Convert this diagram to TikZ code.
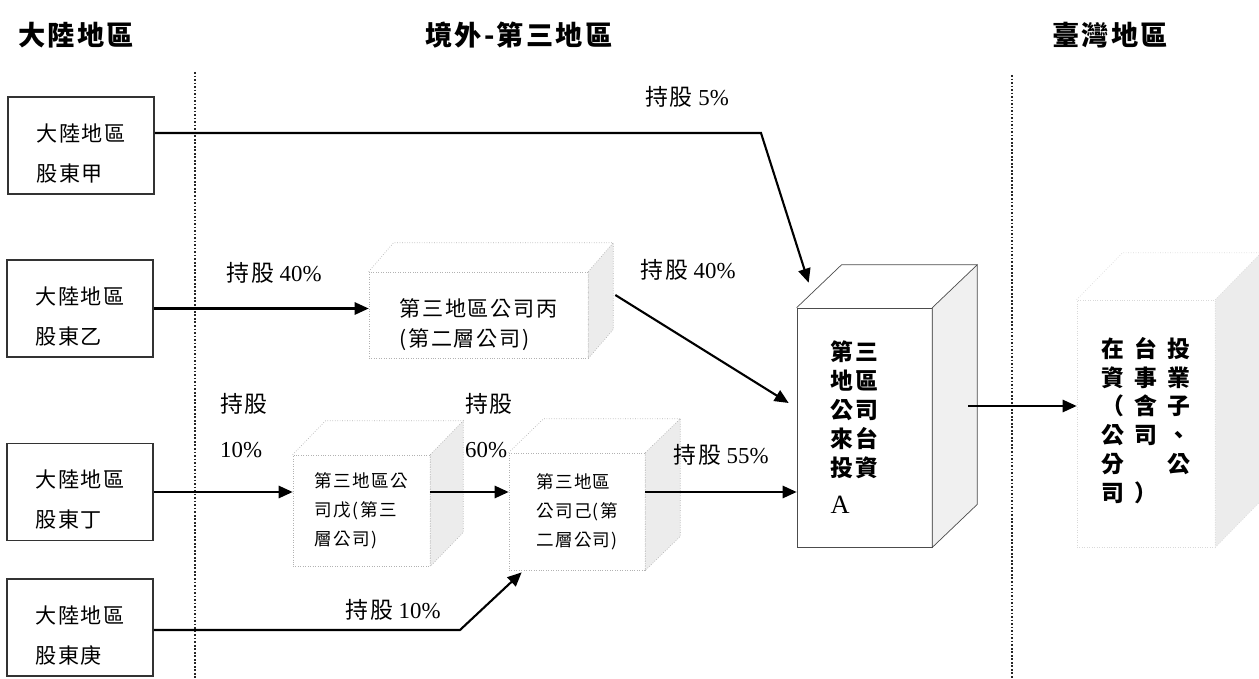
\documentclass[tikz,border=0pt]{standalone}
\usepackage{fontspec}
\setmainfont{Liberation Serif}
\newfontfamily\cjk[LetterSpace=8]{Noto Sans CJK TC}
\usetikzlibrary{calc,arrows.meta}

\tikzset{
  region/.style={inner sep=0pt, font=\cjk\bfseries\fontsize{15.5}{18}\selectfont},
  holder/.style={draw=black!80, line width=1pt, minimum width=2.92cm, minimum height=1.94cm, align=left, font=\cjk\fontsize{12}{22.7}\selectfont},
  share/.style={font=\fontsize{13}{25.5}\selectfont},
  link/.style={line width=1.2pt, -{Triangle[length=8pt,width=7pt]}},
  border/.style={densely dotted, line width=1pt, black!85},
  faint/.style={draw=gray!60, densely dotted, thin},
  fainter/.style={draw=gray!30, densely dotted, thin},
  solidcube/.style={draw=black!70, thin},
}

\begin{document}
\begin{tikzpicture}[x=0.02cm, y=-0.02cm]
  \useasboundingbox (0,0) rectangle (1259,679);

  % Region headings
  \node[region, anchor=west] (hmain) at (18,35) {大陸地區};
  \node[region] (hout) at (519,35) {境外-第三地區};
  \node[region] (htw) at (1110,35) {臺灣地區};

  % Region borders
  \draw[border] (195,72) -- (195,679);
  \draw[border] (1012,75) -- (1012,679);

  % Mainland shareholders
  \node[holder] (sjia) at (81,145.5) {\rule{0pt}{19pt}大陸地區\\股東甲};
  \node[holder] (syi) at (80,308.5) {\rule{0pt}{19pt}大陸地區\\股東乙};
  \node[holder] (sding) at (80,492) {\rule{0pt}{19pt}大陸地區\\股東丁};
  \node[holder] (sgeng) at (80,627.5) {\rule{0pt}{19pt}大陸地區\\股東庚};

  % Company bing
  \node[faint, fill=white, align=left, minimum width=4.38cm, minimum height=1.72cm, font=\cjk\fontsize{12}{17}\selectfont] (cbing) at (478.5,315) {\rule{0pt}{21pt}第三地區公司丙\\(第二層公司)};
  \draw[faint, fill=gray!15] (cbing.north east) -- ++(25,-29) -- ($(cbing.south east)+(25,-29)$) -- (cbing.south east) -- cycle;
  \draw[faint] (cbing.north west) -- ++(25,-29) -- ($(cbing.north east)+(25,-29)$);

  % Company wu
  \node[faint, fill=white, align=left, minimum width=2.74cm, minimum height=2.22cm, font=\cjk\fontsize{10}{16.4}\selectfont] (cwu) at (361.5,510.5) {第三地區公\\司戊(第三\\層公司)};
  \draw[faint, fill=gray!15] (cwu.north east) -- ++(33,-34) -- ($(cwu.south east)+(33,-34)$) -- (cwu.south east) -- cycle;
  \draw[faint] (cwu.north west) -- ++(33,-34) -- ($(cwu.north east)+(33,-34)$);

  % Company ji
  \node[faint, fill=white, align=left, minimum width=2.72cm, minimum height=2.34cm, font=\cjk\fontsize{10}{16.4}\selectfont] (cji) at (577,511.5) {第三地區\\公司己(第\\二層公司)};
  \draw[faint, fill=gray!15] (cji.north east) -- ++(35,-34) -- ($(cji.south east)+(35,-34)$) -- (cji.south east) -- cycle;
  \draw[faint] (cji.north west) -- ++(35,-34) -- ($(cji.north east)+(35,-34)$);

  % Company A
  \node[solidcube, fill=white, align=left, text width=1.36cm, minimum width=2.7cm, minimum height=4.78cm, font=\cjk\bfseries\fontsize{13}{16.4}\selectfont] (cA) at (864.5,427.5) {第三\\地區\\公司\\來台\\投資\\[5pt]{\rmfamily\mdseries\fontsize{15}{16}\selectfont A}};
  \draw[solidcube, fill=gray!12] (cA.north east) -- ++(45,-43) -- ($(cA.south east)+(45,-43)$) -- (cA.south east) -- cycle;
  \draw[solidcube] (cA.north west) -- ++(45,-43) -- ($(cA.north east)+(45,-43)$);

  % Business in Taiwan
  \node[fainter, fill=white, minimum width=2.76cm, minimum height=4.94cm, inner sep=0pt, font=\cjk\bfseries\fontsize{13}{16.4}\selectfont] (ctw) at (1146,423.5) {\setlength{\tabcolsep}{2.8pt}\begin{tabular}{ccc}
    在 & 台 & 投\\
    資 & 事 & 業\\
    （ & 含 & 子\\
    公 & 司 & 、\\
    分 &    & 公\\
    司 & ） & \\
  \end{tabular}};
  \draw[fainter, fill=gray!15] (ctw.north east) -- ++(46,-47) -- ($(ctw.south east)+(46,-47)$) -- (ctw.south east) -- cycle;
  \draw[fainter] (ctw.north west) -- ++(46,-47) -- ($(ctw.north east)+(46,-47)$);

  % Holdings
  \coordinate (bend1) at (761,133);
  \draw[link] (sjia.east |- bend1) -- (bend1) -- ($(cA.north west)+(12,-25)$);
  \draw[link] (syi.east) -- (syi.east -| cbing.west);
  \draw[link] ($(cbing.east)+(27,-20)$) -- ($(cA.west)+(-8,-24.5)$);
  \draw[link] (sding.east) -- (sding.east -| cwu.west);
  \draw[link] (cwu.east |- sding.east) -- (cji.west |- sding.east);
  \draw[link] (cji.east |- sding.east) -- (cA.west |- sding.east);
  \coordinate (bend2) at (460,630);
  \draw[link] (sgeng.east |- bend2) -- (bend2) -- ($(cji.south west)+(13,2)$);
  \draw[link] ($(cA.east)+(36,-21.5)$) -- ($(ctw.west)+(0,-17.5)$);

  % Share labels
  \node[share] (p5) at (687,97) {{\cjk 持股} 5\%};
  \node[share] (p40a) at (274,273) {{\cjk 持股} 40\%};
  \node[share] (p40b) at (688,270) {{\cjk 持股} 40\%};
  \node[share, align=left, anchor=west] (p10a) at (214,425.5) {{\cjk 持股}\\10\%};
  \node[share, align=left, anchor=west] (p60) at (459,425.5) {{\cjk 持股}\\60\%};
  \node[share] (p55) at (721,455) {{\cjk 持股} 55\%};
  \node[share] (p10b) at (393,610) {{\cjk 持股} 10\%};
\end{tikzpicture}
\end{document}
